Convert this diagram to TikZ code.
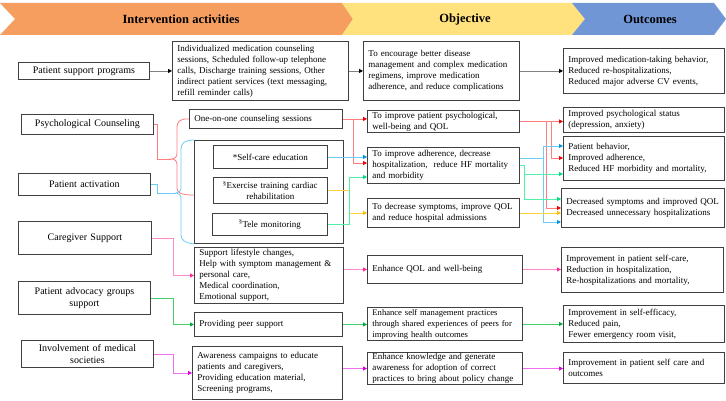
\documentclass[tikz,border=0pt]{standalone}
\usepackage{fontspec}
\setmainfont{Liberation Serif}
\usetikzlibrary{arrows.meta}
\definecolor{hdorange}{RGB}{245,158,96}
\definecolor{hdyellow}{RGB}{255,225,125}
\definecolor{hdblue}{RGB}{112,150,214}
\definecolor{boxc}{RGB}{64,64,64}
\definecolor{redl}{RGB}{255,125,125}\definecolor{redt}{RGB}{240,0,0}
\definecolor{bluel}{RGB}{110,205,245}\definecolor{bluet}{RGB}{0,150,230}
\definecolor{yell}{RGB}{255,210,60}\definecolor{yelt}{RGB}{250,190,0}
\definecolor{aqual}{RGB}{80,240,170}\definecolor{aquat}{RGB}{0,220,130}
\definecolor{pinkl}{RGB}{255,140,200}\definecolor{pinkt}{RGB}{255,40,150}
\definecolor{greenl}{RGB}{70,205,110}\definecolor{greent}{RGB}{0,170,60}
\definecolor{magl}{RGB}{240,110,240}\definecolor{magt}{RGB}{220,0,220}
\definecolor{grayl}{RGB}{128,128,128}
\tikzset{
  box/.style={draw=boxc, line width=0.9pt, fill=white, inner xsep=5pt, inner ysep=1pt, font=\fontsize{9}{11}\selectfont},
  lfont/.style={font=\fontsize{10}{12}\selectfont},
  sfont/.style={font=\fontsize{8.6}{11}\selectfont},
  hdr/.style={font=\fontsize{12.5}{14}\selectfont\bfseries},
  ln/.style={line width=0.8pt},
  tipc/.style={-{Triangle[length=4pt,width=4pt,color=#1]}},
  cgray/.style={ln, draw=grayl, tipc=black},
  cred/.style={ln, draw=redl, tipc=redt},
  cblue/.style={ln, draw=bluel, tipc=bluet},
  cyel/.style={ln, draw=yell, tipc=yelt},
  caqua/.style={ln, draw=aqual, tipc=aquat},
  cpink/.style={ln, draw=pinkl, tipc=pinkt},
  cgreen/.style={ln, draw=greenl, tipc=greent},
  cmag/.style={ln, draw=magl, tipc=magt},
}
\newcommand{\mybox}[7][align=left]{%
  \pgfmathsetmacro\bxw{#5-#3}\pgfmathsetmacro\bxh{#6-#4}\pgfmathsetmacro\bxt{#5-#3-10}%
  \node[box,#1,anchor=north west,minimum width=\bxw pt,minimum height=\bxh pt,text width=\bxt pt] (#2) at (#3,#4) {#7};}
\begin{document}
\begin{tikzpicture}[x=1pt,y=-1pt]
\useasboundingbox (0,0) rectangle (726,401);
\fill[white] (0,0) rectangle (726,401);
% header
\fill[hdorange] (0,3) -- (342,3) -- (353,19) -- (342,35) -- (0,35) -- (15,19) -- cycle;
\fill[hdyellow] (342,3) -- (572,3) -- (585,19) -- (572,35) -- (342,35) -- (353,19) -- cycle;
\fill[hdblue] (572,3) -- (714,3) -- (726,19) -- (714,35) -- (572,35) -- (585,19) -- cycle;
\node[hdr] (h1) at (181,19) {Intervention activities};
\node[hdr] (h2) at (465,19) {Objective};
\node[hdr] (h3) at (650,19) {Outcomes};
% left column
\mybox[align=center,lfont]{psp}{18}{62}{149}{79}{Patient support programs}
\mybox[align=center,lfont]{psy}{21}{114}{153}{134}{Psychological Counseling}
\mybox[align=center,lfont]{act}{18}{173}{150}{195}{Patient activation}
\mybox[align=center,lfont]{care}{18}{221}{151}{254}{Caregiver Support}
\mybox[align=center,lfont]{adv}{18}{281}{150}{314}{Patient advocacy groups\\support}
\mybox[align=center,lfont]{med}{21}{340}{153}{367}{Involvement of medical\\societies}
% interventions
\mybox{b1}{172}{41}{348}{100}{Individualized medication counseling\\sessions, Scheduled follow-up telephone\\calls, Discharge training sessions, Other\\indirect patient services (text messaging,\\refill reminder calls)}
\mybox{one}{189}{109}{342}{128}{One-on-one counseling sessions}
\node[box,anchor=north west,minimum width=149pt,minimum height=103pt] (cont) at (194,140) {};
\mybox[align=center]{self}{213}{145}{327}{168}{*Self-care education}
\mybox[align=center]{ex}{213}{177}{327}{203}{\textsuperscript{§}Exercise training cardiac\\rehabilitation}
\mybox[align=center]{tele}{212}{213}{327}{235}{\textsuperscript{§}Tele monitoring}
\mybox{sup}{194}{247}{343}{303}{Support lifestyle changes,\\Help with symptom management \&\\personal care,\\Medical coordination,\\Emotional support,}
\mybox{peer}{194}{312}{342}{336}{Providing peer support}
\mybox{aw}{192}{346}{342}{399}{Awareness campaigns to educate\\patients and caregivers,\\Providing education material,\\Screening programs,}
% objectives
\mybox{obj1}{363}{41}{519}{100}{To encourage better disease\\management and complex medication\\regimens, improve medication\\adherence, and reduce complications}
\mybox{obj2}{367}{110}{519}{132}{To improve patient psychological,\\well-being and QOL}
\mybox{obj3}{367}{147}{519}{183}{To improve adherence, decrease\\hospitalization,\ \ reduce HF mortality\\and morbidity}
\mybox{obj4}{367}{198}{519}{227}{To decrease symptoms, improve QOL\\and reduce hospital admissions}
\mybox{enq}{367}{255}{522}{283}{Enhance QOL and well-being}
\mybox[align=left,sfont]{esm}{367}{307}{522}{340}{Enhance self management practices\\through shared experiences of peers for\\improving health outcomes}
\mybox{ek}{367}{352}{522}{384}{Enhance knowledge and generate\\awareness for adoption of correct\\practices to bring about policy change}
% outcomes
\mybox{out1}{563}{48}{724}{93}{Improved medication-taking behavior,\\Reduced re-hospitalizations,\\Reduced major adverse CV events,}
\mybox{out2}{563}{107}{724}{132}{Improved psychological status\\(depression, anxiety)}
\mybox{out3}{563}{136}{724}{180}{Patient behavior,\\Improved adherence,\\Reduced HF morbidity and mortality,}
\mybox{out4}{561}{188}{724}{227}{Decreased symptoms and improved QOL\\Decreased unnecessary hospitalizations}
\mybox{outc}{561}{247}{723}{292}{Improvement in patient self-care,\\Reduction in hospitalization,\\Re-hospitalizations and mortality,}
\mybox{outd}{563}{305}{724}{342}{Improvement in self-efficacy,\\Reduced pain,\\Fewer emergency room visit,}
\mybox{oute}{563}{352}{724}{383}{Improvement in patient self care and\\outcomes}
% gray
\draw[cgray] (psp.east) -- (b1.west |- psp.east);
\draw[cgray] (b1.east) -- (obj1.west |- b1.east);
\draw[cgray] (obj1.east) -- (out1.west |- obj1.east);
% braces
\draw[ln, draw=redl] (psy.east) -| (157,159) -- (171,159);
\draw[ln, draw=redl] (one.west) .. controls (181,118.5) and (177,121) .. (177,127) -- (177,153) .. controls (177,157) and (175,159) .. (171,159) .. controls (175,159) and (177,161) .. (177,165) -- (177,188) .. controls (177,193) and (181,195) .. (cont.west |- 0,195);
\draw[ln, draw=bluel] (act.east) -| (157,193) -- (176,193);
\draw[ln, draw=bluel] (cont.north west) .. controls (185,140) and (181,143) .. (181,149) -- (181,187) .. controls (181,191) and (179,193) .. (176,193) .. controls (179,193) and (181,195) .. (181,199) -- (181,235) .. controls (181,240) and (185,243) .. (cont.south west);
% interventions -> objectives
\draw[cred] (one.east) -- (obj2.west |- one.east);
\draw[cred] (one.east) -- ++(10,0) |- (obj3.west |- 0,163);
\draw[cblue] (self.east) -- (obj3.west |- self.east);
\draw[cyel] (ex.east) -- ++(21,0) |- (obj4.west |- 0,213);
\draw[caqua] (tele.east) -- ++(21,0) |- (obj3.west |- 0,177);
% objectives -> outcomes
\draw[cred] (obj2.east) -- (out2.west |- obj2.east);
\draw[cred] (obj2.east) -- ++(26,0) |- (out4.west |- 0,208);
\draw[cred] (obj2.east) -- ++(31,0) |- (out3.west |- 0,158);
\draw[cblue] (obj3.east |- 0,158) -- ++(23,0) |- (out3.west |- 0,146);
\draw[cblue] (obj3.east |- 0,158) -- ++(23,0) |- (out4.west |- 0,222);
\draw[caqua] (obj3.east |- 0,165) -- ++(4,0) |- (out3.west |- 0,174);
\draw[caqua] (obj3.east |- 0,165) -- ++(4,0) |- (out4.west |- 0,199);
\draw[cyel] (obj4.east) -- (out4.west |- obj4.east);
% lower rows
\draw[cpink] (care.east) -- ++(21,0) |- (sup.west);
\draw[cpink] (sup.east |- enq.west) -- (enq.west);
\draw[cpink] (enq.east) -- (outc.west |- enq.east);
\draw[cgreen] (adv.east) -- ++(22,0) |- (peer.west);
\draw[cgreen] (peer.east) -- (esm.west |- peer.east);
\draw[cgreen] (esm.east) -- (outd.west |- esm.east);
\draw[cmag] (med.east) -- ++(19,0) |- (aw.west);
\draw[cmag] (aw.east |- ek.west) -- (ek.west);
\draw[cmag] (ek.east) -- (oute.west |- ek.east);
\end{tikzpicture}
\end{document}
